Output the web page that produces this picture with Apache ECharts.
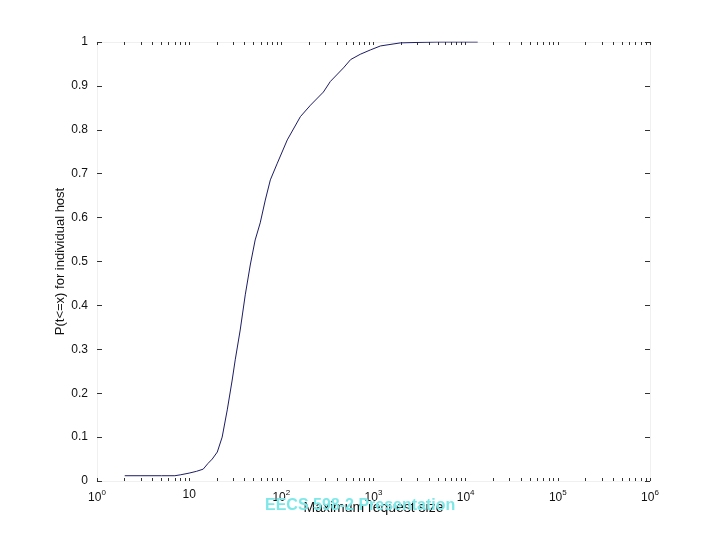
<!DOCTYPE html>
<html>
<head>
<meta charset="utf-8">
<script src="https://cdn.jsdelivr.net/npm/echarts@6/dist/echarts.min.js"></script>
<style>
  html, body { margin: 0; padding: 0; background: #fff; }
  #chart { width: 720px; height: 540px; }
</style>
</head>
<body>
<div id="chart"></div>
<script>
// CDF of maximum request size
const sizes = [2, 3, 5, 7, 8, 10, 12, 14.2, 16, 17.8, 20.2, 22.8, 25.9, 29.3, 31.6, 35.8, 40.6, 46, 52, 59, 67, 76, 90.5, 116, 161, 207, 286, 340, 472, 565, 718, 927, 1190, 1960, 3000, 5000, 13500]
const probs = [0.012, 0.012, 0.012, 0.012, 0.014, 0.018, 0.022, 0.027, 0.04, 0.05, 0.066, 0.1, 0.162, 0.23, 0.276, 0.344, 0.424, 0.492, 0.549, 0.588, 0.64, 0.686, 0.724, 0.777, 0.83, 0.856, 0.886, 0.91, 0.941, 0.96, 0.972, 0.982, 0.991, 0.998, 0.999, 1, 1]

const decades = [1, 10, 100, 1000, 10000, 100000, 1000000]
const exponents = ['0', '', '2', '3', '4', '5', '6']
const minorSteps = [1, 2, 3, 4, 5, 6, 7, 8, 9]

let tickValues = []
for (let d = 0; d < decades.length - 1; d++) {
  minorSteps.forEach(m => tickValues.push(decades[d] * m))
}
tickValues.push(decades[decades.length - 1])

const font = 'Liberation Sans, Arial, sans-serif'
const chart = echarts.init(document.getElementById('chart'))

const xAxisFor = (pos) => ({
  type: 'log',
  logBase: 10,
  min: 1,
  max: 1000000,
  position: pos,
  axisLine: { show: true, onZero: false, lineStyle: { color: '#f0f0f0', width: 1 } },
  axisTick: { show: true, inside: true, length: 3, customValues: tickValues.slice(), lineStyle: { color: '#333', width: 1 } },
  splitLine: { show: false },
  minorTick: { show: false }
})
const yAxisFor = (pos) => ({
  type: 'value',
  min: 0,
  max: 1,
  interval: 0.1,
  position: pos,
  axisLine: { show: true, onZero: false, lineStyle: { color: '#f0f0f0', width: 1 } },
  axisTick: { show: true, inside: true, length: 5, lineStyle: { color: '#333', width: 1 } },
  splitLine: { show: false }
})

const bottomAxis = xAxisFor('bottom')
bottomAxis.name = 'Maximum request size'
bottomAxis.nameLocation = 'middle'
bottomAxis.nameGap = 20
bottomAxis.nameMoveOverlap = false
bottomAxis.nameTextStyle = { fontFamily: font, fontSize: 14, color: '#111' }
bottomAxis.axisLabel = {
  show: true,
  margin: 8,
  customValues: decades,
  formatter: v => {
    const i = decades.indexOf(v)
    return exponents[i] === '' ? '{b|10}' : '{b|10}{s|' + exponents[i] + '}'
  },
  rich: {
    b: { fontFamily: font, fontSize: 12, color: '#111' },
    s: { fontFamily: font, fontSize: 8, color: '#111', padding: [0, 0, 9, 0] }
  }
}
const topAxis = xAxisFor('top')
topAxis.axisLabel = { show: false }

const leftAxis = yAxisFor('left')
leftAxis.name = 'P(t<=x) for individual host'
leftAxis.nameLocation = 'middle'
leftAxis.nameGap = 30
leftAxis.nameRotate = 90
leftAxis.nameMoveOverlap = false
leftAxis.nameTextStyle = { fontFamily: font, fontSize: 13, color: '#111' }
leftAxis.axisLabel = {
  margin: 9,
  fontFamily: font,
  fontSize: 12,
  color: '#111',
  formatter: v => String(Math.round(v * 10) / 10)
}
const rightAxis = yAxisFor('right')
rightAxis.axisLabel = { show: false }

const option = {
  animation: false,
  backgroundColor: '#fff',
  grid: { left: 97, right: 70, top: 42, bottom: 59, containLabel: false },
  xAxis: [bottomAxis, topAxis],
  yAxis: [leftAxis, rightAxis],
  graphic: [{
    type: 'text',
    left: 265,
    top: 498,
    style: {
      text: 'EECS 598-2 Presentation',
      fontFamily: font,
      fontSize: 16,
      fontWeight: 'bold',
      fill: '#7ee8e8'
    },
    z: 10
  }],
  series: [{
    type: 'line',
    xAxisIndex: 0,
    yAxisIndex: 0,
    data: sizes.map((s, i) => [s, probs[i]]),
    showSymbol: false,
    symbol: 'none',
    lineStyle: { color: '#1c1c66', width: 1 }
  }]
}
chart.setOption(option)
</script>
</body>
</html>
